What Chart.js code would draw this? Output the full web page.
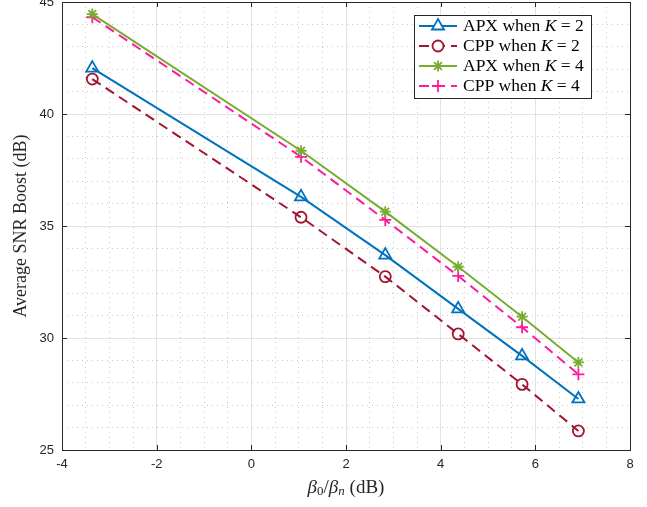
<!DOCTYPE html>
<html>
<head>
<meta charset="utf-8">
<script src="https://cdn.jsdelivr.net/npm/chart.js@4.4.0/dist/chart.umd.min.js"></script>
<style>
html, body { margin: 0; padding: 0; background: #fff; }
</style>
</head>
<body>
<canvas id="grafico" width="647" height="507"></canvas>
<script>
// Dados
const beta = [-3.36, 1.05, 2.83, 4.37, 5.72, 6.91];
const apxK2 = [42.05, 36.3, 33.7, 31.3, 29.2, 27.28];
const cppK2 = [41.56, 35.39, 32.74, 30.18, 27.93, 25.85];
const apxK4 = [44.46, 38.36, 35.64, 33.18, 30.95, 28.91];
const cppK4 = [44.32, 38.09, 35.27, 32.77, 30.48, 28.38];
const nomes = ['APX', 'CPP', 'APX', 'CPP'];
const valoresK = [2, 2, 4, 4];
const xTicks = [-4, -2, 0, 2, 4, 6, 8];
const yTicks = [25, 30, 35, 40, 45];

const SERIF = '"Liberation Serif", "DejaVu Serif", serif';
const SANS = '"Liberation Sans", Arial, sans-serif';

function pontos(ys) {
    return beta.map((x, i) => ({ x: x, y: ys[i] }));
}

function serie(ys, cor, estilo, raio, tracejado) {
    return {
        data: pontos(ys),
        borderColor: cor,
        backgroundColor: cor,
        borderWidth: 2,
        borderDash: tracejado,
        pointStyle: estilo,
        pointRadius: raio,
        pointBorderWidth: 1.8,
        pointBackgroundColor: 'rgba(0,0,0,0)',
        pointBorderColor: cor,
        tension: 0
    };
}

const datasets = [
    serie(apxK2, '#0072BD', 'triangle', 7, []),
    serie(cppK2, '#A2142F', 'circle', 5.5, [10, 6]),
    serie(apxK4, '#77AC30', 'star', 5.5, []),
    serie(cppK4, '#FF1A9C', 'cross', 6, [10, 6])
];

function ehMaior(lista, ctx) {
    return ctx.tick && lista.some(v => Math.abs(v - ctx.tick.value) < 1e-6);
}

// Zera o espaço extra que o Chart.js reserva para os rótulos das pontas
function semPadding(s) {
    s.paddingTop = 0;
    s.paddingBottom = 0;
    s.paddingLeft = 0;
    s.paddingRight = 0;
}

// Moldura, legenda e título do eixo x
const moldura = {
    id: 'moldura',
    afterDraw(chart) {
        const ctx = chart.ctx;
        const a = chart.chartArea;
        const sx = chart.scales.x, sy = chart.scales.y;
        ctx.save();
        ctx.strokeStyle = '#262626';
        ctx.lineWidth = 1;
        ctx.strokeRect(a.left + 0.5, a.top + 0.5, a.right - a.left, a.bottom - a.top);
        ctx.beginPath();
        xTicks.forEach(v => {
            const px = Math.round(sx.getPixelForValue(v)) + 0.5;
            ctx.moveTo(px, a.bottom); ctx.lineTo(px, a.bottom - 5);
            ctx.moveTo(px, a.top); ctx.lineTo(px, a.top + 5);
        });
        yTicks.forEach(v => {
            const py = Math.round(sy.getPixelForValue(v)) + 0.5;
            ctx.moveTo(a.left, py); ctx.lineTo(a.left + 5, py);
            ctx.moveTo(a.right, py); ctx.lineTo(a.right - 5, py);
        });
        ctx.stroke();

        // legenda
        const lx = 414, ly = 15, lw = 177, lh = 83;
        ctx.fillStyle = '#fff';
        ctx.fillRect(lx, ly, lw, lh);
        ctx.strokeStyle = '#262626';
        ctx.strokeRect(lx + 0.5, ly + 0.5, lw, lh);
        chart.data.datasets.forEach((ds, i) => {
            const y = 26 + i * 20;
            ctx.strokeStyle = ds.borderColor;
            ctx.lineWidth = 2;
            ctx.setLineDash(ds.borderDash);
            ctx.beginPath();
            ctx.moveTo(419, y); ctx.lineTo(457, y);
            ctx.stroke();
            ctx.setLineDash([]);
            ctx.fillStyle = '#fff';
            ctx.lineWidth = 1.8;
            Chart.helpers.drawPoint(ctx, {
                pointStyle: ds.pointStyle, radius: ds.pointRadius, rotation: 0, borderWidth: 1.8
            }, 438, y);
            ctx.fillStyle = '#000';
            ctx.textBaseline = 'middle';
            ctx.textAlign = 'left';
            let x = 463;
            ctx.font = '17.5px ' + SERIF;
            const t1 = nomes[i] + ' when ';
            ctx.fillText(t1, x, y); x += ctx.measureText(t1).width;
            ctx.font = 'italic 17.5px ' + SERIF;
            ctx.fillText('K', x, y); x += ctx.measureText('K').width;
            ctx.font = '17.5px ' + SERIF;
            ctx.fillText(' = ' + valoresK[i], x, y);
        });

        // título do eixo x
        const partes = [
            { t: 'β', f: 'italic 19px ', dy: 0 },
            { t: '0', f: '13px ', dy: 4 },
            { t: '/', f: '19px ', dy: 0 },
            { t: 'β', f: 'italic 19px ', dy: 0 },
            { t: 'n', f: 'italic 13px ', dy: 4 },
            { t: ' (dB)', f: '19px ', dy: 0 }
        ];
        let total = 0;
        partes.forEach(p => { ctx.font = p.f + SERIF; p.w = ctx.measureText(p.t).width; total += p.w; });
        let x = (a.left + a.right) / 2 - total / 2;
        const yb = 488;
        ctx.fillStyle = '#262626';
        ctx.textBaseline = 'middle';
        partes.forEach(p => {
            ctx.font = p.f + SERIF;
            ctx.fillText(p.t, x, yb + p.dy);
            x += p.w;
        });
        ctx.restore();
    }
};

new Chart(document.getElementById('grafico').getContext('2d'), {
    type: 'line',
    data: { datasets: datasets },
    options: {
        responsive: false,
        animation: false,
        layout: { autoPadding: false, padding: { left: 0, right: 17, top: 2, bottom: 0 } },
        plugins: { legend: { display: false }, tooltip: { enabled: false } },
        scales: {
            x: {
                type: 'linear',
                min: -4,
                max: 8,
                afterFit: s => { semPadding(s); s.height = 57; },
                ticks: {
                    stepSize: 0.5,
                    autoSkip: false,
                    maxRotation: 0,
                    padding: 7,
                    color: '#262626',
                    font: { family: SANS, size: 13 },
                    callback: v => xTicks.includes(v) ? String(v) : ''
                },
                grid: {
                    drawTicks: false,
                    color: ctx => ehMaior(xTicks, ctx) ? '#e2e2e2' : '#c8c8c8',
                    lineWidth: 1
                },
                border: {
                    display: false,
                    dash: ctx => ehMaior(xTicks, ctx) ? [] : [1, 4]
                }
            },
            y: {
                type: 'linear',
                min: 25,
                max: 45,
                afterFit: s => { semPadding(s); s.width = 62; },
                ticks: {
                    stepSize: 1,
                    autoSkip: false,
                    padding: 8,
                    color: '#262626',
                    font: { family: SANS, size: 13 },
                    callback: v => yTicks.includes(v) ? String(v) : ''
                },
                grid: {
                    drawTicks: false,
                    color: ctx => ehMaior(yTicks, ctx) ? '#e2e2e2' : '#c8c8c8',
                    lineWidth: 1
                },
                border: {
                    display: false,
                    dash: ctx => ehMaior(yTicks, ctx) ? [] : [1, 4]
                },
                title: {
                    display: true,
                    text: 'Average SNR Boost (dB)',
                    color: '#262626',
                    font: { family: SERIF, size: 18 },
                    padding: { top: 10, bottom: 0 }
                }
            }
        }
    },
    plugins: [moldura]
});
</script>
</body>
</html>
